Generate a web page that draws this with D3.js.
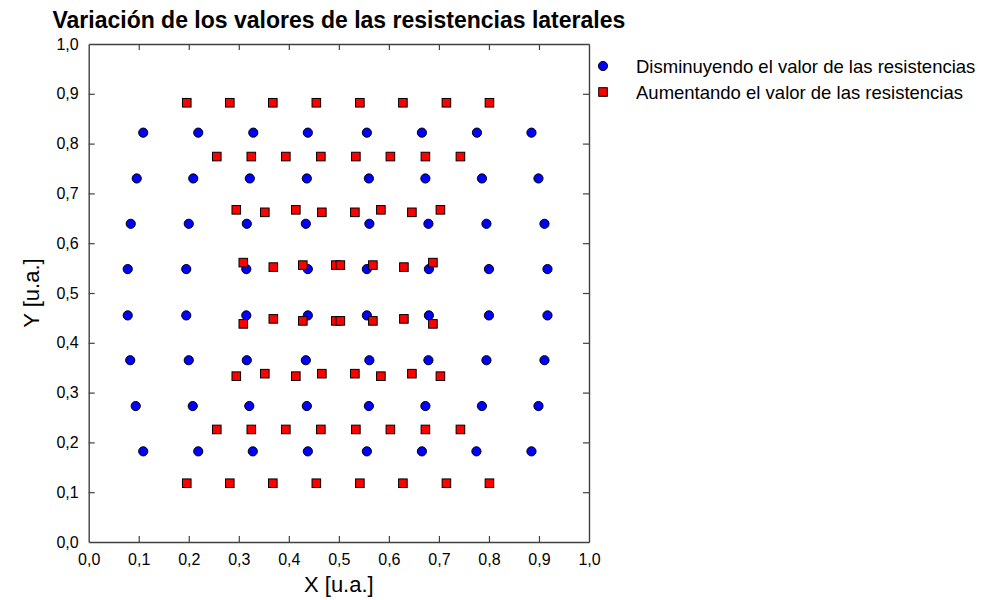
<!DOCTYPE html>
<html>
<head>
<meta charset="utf-8">
<script src="https://cdn.jsdelivr.net/npm/d3@7"></script>
<style>
  html, body { margin: 0; padding: 0; background: #fff; }
  svg text { font-family: "Liberation Sans", Arial, sans-serif; fill: #000; }
</style>
</head>
<body>
<svg id="chart" width="990" height="600"></svg>
<script>
// Series: lateral resistance variation, [x, y] in arbitrary units
const disminuyendo = [
  [0.109,0.822],[0.219,0.822],[0.329,0.822],[0.438,0.822],[0.556,0.822],[0.666,0.822],[0.776,0.822],[0.885,0.822],
  [0.096,0.730],[0.209,0.730],[0.322,0.730],[0.436,0.730],[0.560,0.730],[0.673,0.730],[0.786,0.730],[0.899,0.730],
  [0.084,0.639],[0.200,0.639],[0.316,0.639],[0.434,0.639],[0.561,0.639],[0.679,0.639],[0.795,0.639],[0.911,0.639],
  [0.078,0.548],[0.195,0.548],[0.315,0.548],[0.438,0.548],[0.556,0.548],[0.680,0.548],[0.800,0.548],[0.917,0.548],
  [0.078,0.455],[0.195,0.455],[0.315,0.455],[0.438,0.455],[0.556,0.455],[0.680,0.455],[0.800,0.455],[0.917,0.455],
  [0.083,0.365],[0.200,0.365],[0.316,0.365],[0.434,0.365],[0.561,0.365],[0.679,0.365],[0.795,0.365],[0.911,0.365],
  [0.094,0.273],[0.208,0.273],[0.321,0.273],[0.436,0.273],[0.560,0.273],[0.673,0.273],[0.786,0.273],[0.899,0.273],
  [0.109,0.182],[0.219,0.182],[0.328,0.182],[0.438,0.182],[0.556,0.182],[0.666,0.182],[0.775,0.182],[0.885,0.182]
];

const aumentando = [
  [0.196,0.882],[0.282,0.882],[0.368,0.882],[0.455,0.882],[0.542,0.882],[0.628,0.882],[0.715,0.882],[0.801,0.882],
  [0.256,0.774],[0.325,0.774],[0.394,0.774],[0.464,0.774],[0.534,0.774],[0.603,0.774],[0.673,0.774],[0.743,0.774],
  [0.295,0.667],[0.352,0.662],[0.414,0.667],[0.466,0.662],[0.532,0.662],[0.584,0.667],[0.646,0.662],[0.703,0.667],
  [0.309,0.561],[0.369,0.552],[0.428,0.556],[0.494,0.556],[0.503,0.556],[0.568,0.556],[0.630,0.552],[0.688,0.561],
  [0.309,0.438],[0.369,0.448],[0.428,0.444],[0.494,0.444],[0.503,0.444],[0.568,0.444],[0.630,0.448],[0.688,0.438],
  [0.295,0.333],[0.352,0.338],[0.414,0.333],[0.466,0.338],[0.532,0.338],[0.584,0.333],[0.646,0.338],[0.703,0.333],
  [0.256,0.226],[0.325,0.226],[0.394,0.226],[0.464,0.226],[0.534,0.226],[0.603,0.226],[0.673,0.226],[0.743,0.226],
  [0.196,0.118],[0.282,0.118],[0.368,0.118],[0.455,0.118],[0.542,0.118],[0.628,0.118],[0.715,0.118],[0.801,0.118]
];

const tickValues = [0,0.1,0.2,0.3,0.4,0.5,0.6,0.7,0.8,0.9,1.0];
const tickLabels = ["0,0","0,1","0,2","0,3","0,4","0,5","0,6","0,7","0,8","0,9","1,0"];
const legendLabels = ["Disminuyendo el valor de las resistencias", "Aumentando el valor de las resistencias"];
const chartTitle = "Variación de los valores de las resistencias laterales";
const xTitle = "X [u.a.]";
const yTitle = "Y [u.a.]";

(function () {
  const svg = d3.select("#chart");
  const plotLeft = 88.7, plotRight = 589, plotTop = 44, plotBottom = 542;

  const x = d3.scaleLinear().domain([0, 1]).range([plotLeft, plotRight]);
  const y = d3.scaleLinear().domain([0, 1]).range([plotBottom, plotTop]);
  const fmt = d => tickLabels[tickValues.findIndex(t => Math.abs(t - d) < 1e-9)];

  function styleAxis(g) {
    g.select(".domain").attr("stroke", "#404040").attr("stroke-width", 1.4);
    g.selectAll(".tick line").attr("stroke", "#404040").attr("stroke-width", 1.2);
    g.selectAll(".tick text").style("font-size", "16px").attr("fill", "#000");
  }

  // Bottom and left axes carry labels; top and right close the frame
  svg.append("g").attr("transform", `translate(0,${plotBottom})`)
    .call(d3.axisBottom(x).tickValues(tickValues).tickFormat(fmt).tickSizeInner(-6).tickSizeOuter(0).tickPadding(12))
    .call(styleAxis);
  svg.append("g").attr("transform", `translate(0,${plotTop})`)
    .call(d3.axisTop(x).tickValues(tickValues).tickFormat("").tickSizeInner(-6).tickSizeOuter(0))
    .call(styleAxis);
  svg.append("g").attr("transform", `translate(${plotLeft},0)`)
    .call(d3.axisLeft(y).tickValues(tickValues).tickFormat(fmt).tickSizeInner(-6).tickSizeOuter(0).tickPadding(10))
    .call(styleAxis);
  svg.append("g").attr("transform", `translate(${plotRight},0)`)
    .call(d3.axisRight(y).tickValues(tickValues).tickFormat("").tickSizeInner(-6).tickSizeOuter(0))
    .call(styleAxis);

  // Inner tick lines at the frame corners are redundant
  svg.selectAll(".tick line").filter(d => d === 0 || d === 1).attr("opacity", 0);

  // Markers
  const R = 4.6, S = 8.6;
  svg.append("g").selectAll("circle").data(disminuyendo).join("circle")
    .attr("cx", d => x(d[0])).attr("cy", d => y(d[1])).attr("r", R)
    .attr("fill", "#0000ff").attr("stroke", "#000").attr("stroke-width", 1);

  svg.append("g").selectAll("rect").data(aumentando).join("rect")
    .attr("x", d => x(d[0]) - S / 2).attr("y", d => y(d[1]) - S / 2)
    .attr("width", S).attr("height", S)
    .attr("fill", "#ff0000").attr("stroke", "#000").attr("stroke-width", 1);

  // Titles
  svg.append("text").attr("x", (plotLeft + plotRight) / 2).attr("y", 28)
    .attr("text-anchor", "middle")
    .style("font-size", "23px").style("font-weight", "bold").text(chartTitle);
  svg.append("text").attr("x", (plotLeft + plotRight) / 2).attr("y", 592)
    .attr("text-anchor", "middle").style("font-size", "22px").text(xTitle);
  svg.append("text").attr("transform", `translate(39,${(plotTop + plotBottom) / 2}) rotate(-90)`)
    .attr("text-anchor", "middle").style("font-size", "22px").text(yTitle);

  // Legend
  const legend = svg.append("g");
  const ly0 = 66, ldy = 26;
  legend.append("circle").attr("cx", 603).attr("cy", ly0).attr("r", R)
    .attr("fill", "#0000ff").attr("stroke", "#000");
  legend.append("rect").attr("x", 603 - S / 2).attr("y", ly0 + ldy - S / 2).attr("width", S).attr("height", S)
    .attr("fill", "#ff0000").attr("stroke", "#000");
  legend.selectAll("text").data(legendLabels).join("text")
    .attr("x", 636).attr("y", (d, i) => ly0 + i * ldy + 6.5)
    .style("font-size", "18.5px").text(d => d);
})();
</script>
</body>
</html>
